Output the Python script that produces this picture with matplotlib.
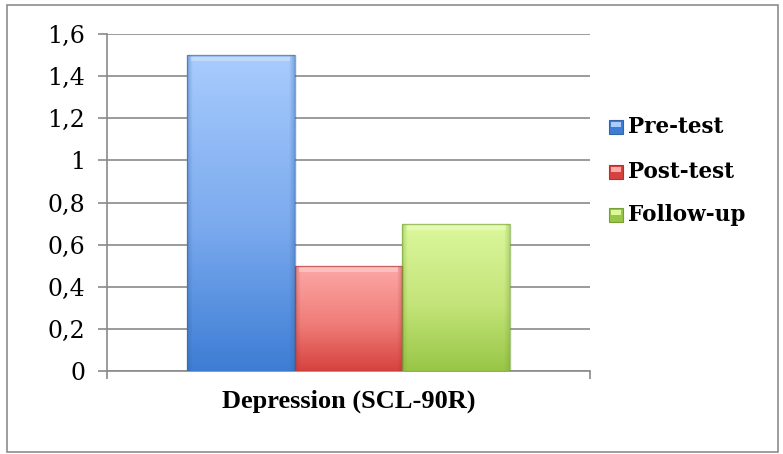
import matplotlib
matplotlib.use("Agg")
import matplotlib.pyplot as plt
import numpy as np
from matplotlib.colors import LinearSegmentedColormap
from matplotlib.patches import Rectangle
from matplotlib.ticker import FuncFormatter

# Data
category = "Depression (SCL-90R)"
series = ["Pre-test", "Post-test", "Follow-up"]
values = [1.5, 0.5, 0.7]

# Gradient (top, middle, bottom colour) and edge colour per series
top_colors = ["#a8ccfd", "#fca9a7", "#dcf89c"]
mid_colors = ["#7aa9ee", "#f07d79", "#c3e479"]
bottom_colors = ["#3d7dd4", "#d6423e", "#98c646"]
edge_colors = ["#3465a8", "#a83532", "#76a035"]

fig = plt.figure(figsize=(7.83, 4.54), dpi=100)

# outer chart frame
frame = Rectangle((7.5 / 783, 1 - 452 / 454), 770 / 783, 447 / 454,
                  transform=fig.transFigure, fill=False,
                  edgecolor="#8c8c8c", linewidth=1.2)
fig.patches.append(frame)

ax = fig.add_axes([107 / 783, 1 - 371 / 454, 483 / 783, 337 / 454])

width = 0.2235
offsets = (np.arange(len(series)) - 1) * width
ax.set_xlim(-0.5, 0.5)
ax.set_ylim(0, 1.6)

bars = ax.bar(offsets, values, width=width, color="none",
              edgecolor="none", zorder=3)

grad = np.linspace(0, 1, 256).reshape(-1, 1)
side = np.abs(np.linspace(-1, 1, 128))
side_shade = np.clip((side - 0.9) / 0.1, 0, 1).reshape(1, -1)
for bar, tc, mc, bc, ec in zip(bars, top_colors, mid_colors, bottom_colors,
                               edge_colors):
    x0, y0 = bar.get_x(), bar.get_y()
    w, h = bar.get_width(), bar.get_height()
    cmap = LinearSegmentedColormap.from_list(
        "g", [(0, bc), (0.45, mc), (1, tc)])
    im = ax.imshow(grad, extent=(x0, x0 + w, y0, y0 + h), origin="lower",
                   aspect="auto", cmap=cmap, zorder=3, interpolation="bilinear")
    im.set_clip_path(bar)
    # darker bevel along the sides
    sh = np.zeros((1, 128, 4))
    sh[..., :3] = matplotlib.colors.to_rgb(ec)
    sh[..., 3] = side_shade * 0.35
    im2 = ax.imshow(sh, extent=(x0, x0 + w, y0, y0 + h), aspect="auto",
                    zorder=3.5, interpolation="bilinear")
    im2.set_clip_path(bar)
    # bevel highlight along the top
    ax.add_patch(Rectangle((x0 + w * 0.04, y0 + h - 0.03), w * 0.92, 0.022,
                           facecolor="white", alpha=0.3, edgecolor="none",
                           zorder=4))
    ax.add_patch(Rectangle((x0, y0), w, h, fill=False, edgecolor=ec,
                           linewidth=1.0, alpha=0.6, zorder=5))

ax.set_xlim(-0.5, 0.5)
ax.set_ylim(0, 1.6)

ax.set_yticks(np.arange(0, 1.61, 0.2))
ax.yaxis.set_major_formatter(
    FuncFormatter(lambda v, p: ("%g" % round(v, 1)).replace(".", ",")))
ax.yaxis.grid(True, color="#8a8a8a", linewidth=1.2, zorder=0)
ax.set_axisbelow(True)

ax.set_xticks([-0.5, 0.5])
ax.set_xticklabels(["", ""])
ax.tick_params(axis="x", length=6, width=1.2, color="#8a8a8a", direction="out")
ax.tick_params(axis="y", length=6.5, width=1.2, color="#8a8a8a",
               direction="out", labelsize=17, pad=9)
for lbl in ax.get_yticklabels():
    lbl.set_family(["DejaVu Serif"])

for s in ["top", "right"]:
    ax.spines[s].set_visible(False)
for s in ["left", "bottom"]:
    ax.spines[s].set_color("#8a8a8a")
    ax.spines[s].set_linewidth(1.2)

ax.text(0, -0.09, category, transform=ax.get_xaxis_transform(),
        ha="center", va="center", fontsize=19, fontweight="bold",
        family=["Liberation Serif"])

# legend
legend_y = [127, 172, 215]
for name, tc, bc, ec, yy in zip(series, top_colors, bottom_colors,
                                edge_colors, legend_y):
    yf = 1 - yy / 454
    sw = 14 / 783
    sh = 14 / 454
    fig.patches.append(Rectangle((609 / 783, yf - sh / 2), sw, sh,
                                 transform=fig.transFigure,
                                 facecolor=bc, edgecolor=ec, linewidth=0.8))
    fig.patches.append(Rectangle((611 / 783, yf), sw - 4 / 783, sh / 2 - 2 / 454,
                                 transform=fig.transFigure,
                                 facecolor=tc, edgecolor="none"))
    fig.text(628 / 783, yf, name, ha="left", va="center", fontsize=15.5,
             fontweight="bold", family=["DejaVu Serif"])

fig.savefig("out.png", dpi=100)
